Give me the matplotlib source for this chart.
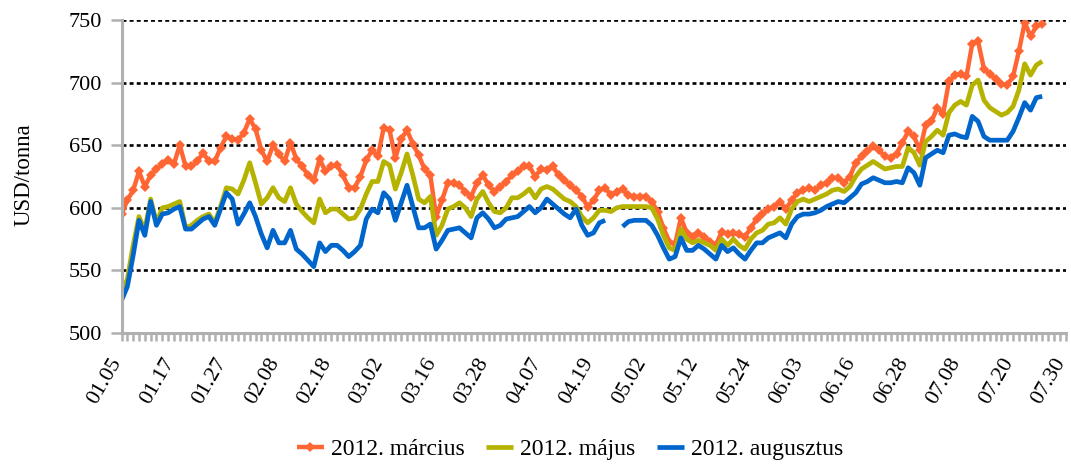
import numpy as np
import matplotlib
matplotlib.use("Agg")
import matplotlib.pyplot as plt
from matplotlib.transforms import ScaledTranslation

plt.rcParams["font.family"] = ["Liberation Serif", "DejaVu Serif"]

# 163 categories on the axis, labels every 9th
n_categories = 163
tick_labels = ["01.05", "01.17", "01.27", "02.08", "02.18", "03.02", "03.16",
               "03.28", "04.07", "04.19", "05.02", "05.12", "05.24", "06.03",
               "06.16", "06.28", "07.08", "07.20", "07.30"]

series_names = ["2012. március", "2012. május", "2012. augusztus"]

marcius = [595, 606, 614, 629, 617, 626, 631, 635, 638, 635, 650, 633, 633, 637, 644,
           637, 637, 648, 657, 655, 654, 660, 671, 663, 646, 637, 650, 643, 637, 652,
           639, 633, 626, 622, 639, 629, 633, 634, 626, 616, 616, 625, 638, 646, 641,
           664, 662, 640, 655, 662, 651, 642, 631, 626, 593, 606, 620, 620, 618, 613,
           609, 620, 626, 618, 613, 617, 621, 626, 629, 633, 633, 625, 631, 630, 633,
           626, 622, 618, 614, 609, 601, 606, 614, 616, 610, 613, 615, 610, 609, 609,
           609, 605, 597, 584, 573, 571, 592, 580, 577, 580, 577, 573, 570, 581, 579,
           580, 579, 577, 584, 591, 595, 599, 601, 605, 599, 606, 612, 614, 616, 614,
           618, 620, 624, 624, 620, 625, 636, 641, 645, 649, 646, 641, 640, 643, 652,
           661, 657, 646, 666, 669, 680, 675, 701, 706, 707, 705, 731, 733, 711, 707,
           703, 699, 698, 705, 725, 748, 737, 745, 747]

majus = [533, 543, 570, 593, 582, 607, 588, 600, 601, 603, 605, 584, 586, 590, 593,
         595, 588, 601, 616, 615, 611, 622, 636, 620, 603, 608, 616, 608, 605, 616,
         603, 597, 592, 588, 607, 596, 599, 599, 595, 591, 592, 599, 611, 621, 621,
         637, 634, 615, 628, 643, 626, 607, 604, 609, 578, 586, 599, 601, 604, 600,
         593, 607, 613, 604, 597, 596, 600, 608, 608, 611, 615, 608, 615, 617, 615,
         611, 607, 605, 601, 593, 588, 592, 598, 598, 597, 600, 601, 601, 601, 601,
         601, 600, 591, 578, 568, 566, 583, 575, 572, 574, 572, 570, 566, 575, 570,
         575, 570, 567, 575, 580, 582, 587, 588, 592, 587, 599, 605, 607, 605, 607,
         609, 611, 614, 615, 613, 617, 625, 631, 634, 637, 634, 631, 632, 633, 633,
         648, 644, 634, 653, 657, 662, 658, 676, 682, 685, 682, 698, 702, 686, 680,
         677, 674, 676, 681, 694, 715, 706, 714, 717]

augusztus = [526, 537, 562, 590, 578, 605, 586, 595, 596, 599, 601, 583, 583, 587, 591,
             593, 586, 599, 612, 607, 587, 595, 604, 593, 579, 568, 582, 572, 572, 582,
             567, 563, 558, 553, 572, 565, 570, 570, 566, 561, 565, 570, 591, 599, 596,
             612, 607, 590, 604, 618, 601, 584, 584, 587, 567, 574, 582, 583, 584, 580,
             576, 592, 596, 591, 584, 586, 591, 592, 593, 597, 601, 596, 600, 607, 603,
             599, 595, 592, 599, 586, 578, 580, 588, 590, None, None, 585, 589, 590, 590,
             590, 586, 578, 568, 559, 561, 576, 566, 566, 570, 567, 563, 559, 570, 565,
             568, 563, 559, 566, 572, 572, 576, 578, 580, 576, 587, 593, 595, 595, 596,
             598, 601, 603, 605, 604, 608, 612, 619, 621, 624, 622, 620, 620, 621, 620,
             632, 628, 618, 640, 643, 646, 644, 658, 659, 657, 656, 673, 669, 657, 654,
             654, 654, 654, 661, 672, 684, 678, 688, 689]

colors = ["#FF6633", "#B5B300", "#0066CC"]
grey = "#B0B0B0"

fig = plt.figure(figsize=(10.71, 4.65), dpi=100)
ax = fig.add_axes([121.5 / 1071, 1 - 333 / 465, (1065.5 - 121.5) / 1071, 313 / 465])

for name, values, color in zip(series_names, [marcius, majus, augusztus], colors):
    y = np.array(values, dtype=float)
    x = np.arange(len(y))
    if color == colors[0]:
        ax.plot(x, y, color=color, lw=3.2, marker="D", markersize=5.5,
                markeredgewidth=0, label=name, solid_capstyle="butt")
    else:
        ax.plot(x, y, color=color, lw=3.4, label=name, solid_capstyle="butt")

ax.set_xlim(0, n_categories - 1)
ax.set_ylim(500, 750)
ax.set_yticks([500, 550, 600, 650, 700, 750])
for v in [550, 600, 650, 700, 750]:
    ax.axhline(v, color="black", lw=1.9, linestyle=(0, (1.5, 1.2)), zorder=0.5)

ax.set_xticks(np.arange(0, n_categories, 9))
ax.set_xticklabels(tick_labels, rotation=60, ha="right", va="center",
                   rotation_mode="anchor")
ax.set_xticks(np.arange(n_categories), minor=True)

ax.tick_params(axis="x", which="both", length=6, width=1.8, color=grey,
               pad=13, labelsize=16)
ax.tick_params(axis="y", length=8, width=1.8, color=grey, pad=6, labelsize=16)

shift = ScaledTranslation(-4 / 100, 0, fig.dpi_scale_trans)
for lab in ax.get_xticklabels():
    lab.set_transform(lab.get_transform() + shift)

for side in ["top", "right"]:
    ax.spines[side].set_visible(False)
for side in ["left", "bottom"]:
    ax.spines[side].set_color(grey)
    ax.spines[side].set_linewidth(2.2)

fig.text(0.022, 1 - 175 / 465, "USD/tonna", rotation=90, ha="center",
         va="center", fontsize=16.5)

fig.legend(loc="lower center", bbox_to_anchor=(0.532, -0.035), ncol=3,
           frameon=False, fontsize=17, handlelength=1.15, handletextpad=0.3,
           columnspacing=0.9)

fig.savefig("out.png", dpi=100)
